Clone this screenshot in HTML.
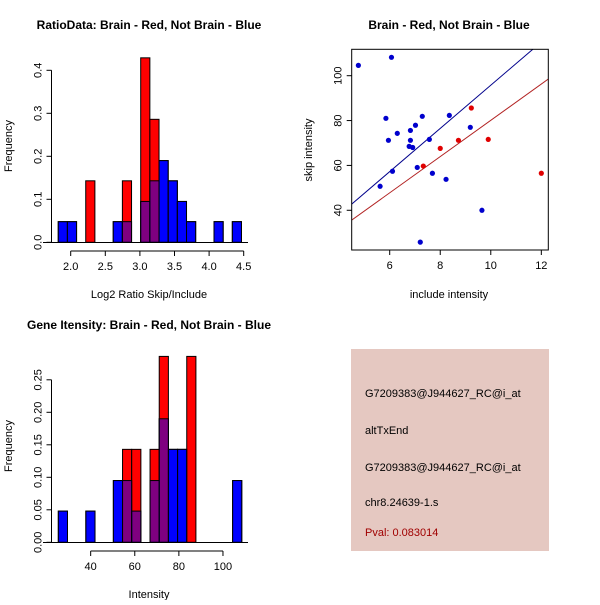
<!DOCTYPE html>
<html><head><meta charset="utf-8"><style>
body{margin:0;background:#fff}
svg text{font-family:"Liberation Sans",sans-serif}
</style></head><body>
<svg id="c" width="600" height="600" xmlns="http://www.w3.org/2000/svg"></svg>
<script>
// Panel 1: ratio histogram (shared breaks)
const ratioStart = 1.82, ratioWidth = 0.1324;
const ratioBlueBins = [0,1,6,7,9,10,11,12,13,14,17,19];
const ratioBlueFreq = [0.048,0.048,0.048,0.048,0.095,0.143,0.19,0.143,0.095,0.048,0.048,0.048];
const ratioRedBins = [3,7,9,10];
const ratioRedFreq = [0.143,0.143,0.429,0.286];
const ratioXTicks = [2.0,2.5,3.0,3.5,4.0,4.5];
const ratioYTicks = [0.0,0.1,0.2,0.3,0.4];
// Panel 2: intensity histogram
const intStart = 25.33, intWidth = 4.16;
const intBlueBins = [0,3,6,7,8,10,11,12,13,19];
const intBlueFreq = [0.048,0.048,0.095,0.095,0.048,0.095,0.19,0.143,0.143,0.095];
const intRedBins = [7,8,10,11,14];
const intRedFreq = [0.143,0.143,0.143,0.286,0.286];
const intXTicks = [40,60,80,100];
const intYTicks = [0.00,0.05,0.10,0.15,0.20,0.25];
// Panel 3: scatter
const blueX = [4.76,6.07,5.85,5.95,6.30,5.62,6.11,6.82,6.82,6.77,6.91,7.02,7.29,7.09,7.57,7.69,8.36,8.23,9.19,9.65,7.21];
const blueY = [104.6,108.2,81.0,71.2,74.3,50.7,57.4,75.6,71.2,68.5,68.0,77.9,81.9,59.1,71.6,56.5,82.3,53.8,77.0,40.0,25.8];
const redX = [7.33,8.0,8.72,9.23,9.90,12.0];
const redY = [59.7,67.6,71.2,85.6,71.6,56.5];
const blueFit = [-0.54, 9.63]; // intercept, slope
const redFit = [-0.7, 8.08];
const scXTicks = [6,8,10,12];
const scYTicks = [40,60,80,100];
const infoLines = ["G7209383@J944627_RC@i_at","altTxEnd","G7209383@J944627_RC@i_at","chr8.24639-1.s"];
const pvalText = "Pval: 0.083014";

const svg = document.getElementById('c');
const NS = "http://www.w3.org/2000/svg";
function mk(tag, attrs, parent){const e=document.createElementNS(NS,tag);for(const k in attrs)e.setAttribute(k,attrs[k]);(parent||svg).appendChild(e);return e;}
function txt(x,y,s,size,extra){const t=mk('text',Object.assign({x:x,y:y,'font-size':size,'text-anchor':'middle',fill:'#000'},extra||{}));t.textContent=s;return t;}

function hist(g, sx, sy, start, w, bBins, bFreq, rBins, rFreq){
  const y0 = sy(0);
  function bars(bins, freq, fill, op, name){
    bins.forEach((k,i)=>{
      const x1=sx(start+k*w), x2=sx(start+(k+1)*w), yt=sy(freq[i]);
      const r=mk('rect',{x:x1,y:yt,width:x2-x1,height:y0-yt,fill:fill,'fill-opacity':op,stroke:'#000','stroke-width':1},g);
      
      
    });
  }
  bars(bBins,bFreq,'#0000ff',1,'bar-not-brain');
  bars(rBins,rFreq,'#ff0000',1,'bar-brain');
  bars(bBins,bFreq,'#0000ff',0.5,'bar-overlap');
}
function yAxis(g, x, ticks, sy, fmt){
  mk('line',{x1:x,x2:x,y1:sy(ticks[0]),y2:sy(ticks[ticks.length-1]),stroke:'#000'},g);
  ticks.forEach(t=>{const y=sy(t);mk('line',{x1:x-5,x2:x,y1:y,y2:y,stroke:'#000'},g);
    txt(x-10,y,fmt(t),11,{transform:`rotate(-90 ${x-10} ${y})`});});
}
function xAxis(g, y, ticks, sx, fmt){
  mk('line',{x1:sx(ticks[0]),x2:sx(ticks[ticks.length-1]),y1:y,y2:y,stroke:'#000'},g);
  ticks.forEach(t=>{const x=sx(t);mk('line',{x1:x,x2:x,y1:y,y2:y+5,stroke:'#000'},g);txt(x,y+19,fmt(t),11);});
}

// Panel 1
{const g=mk('g',{});  
 const sx=v=>70.7+(v-2.0)*69.2, sy=v=>242.3-v*430;
 hist(g,sx,sy,ratioStart,ratioWidth,ratioBlueBins,ratioBlueFreq,ratioRedBins,ratioRedFreq);
 mk('line',{x1:43,x2:248,y1:242.5,y2:242.5,stroke:'#000'},g);
 yAxis(g,51.5,ratioYTicks,sy,t=>t.toFixed(1));
 xAxis(g,251,ratioXTicks,sx,t=>t.toFixed(1));
 txt(149,29,"RatioData: Brain - Red, Not Brain - Blue",12,{'font-weight':'bold'});
 txt(149,298,"Log2 Ratio Skip/Include",11);
 txt(12,146,"Frequency",11,{transform:'rotate(-90 12 146)'});
}
// Panel 2
{const g=mk('g',{});  
 const sx=v=>90.67+(v-40)*2.205, sy=v=>542.3-v*650;
 hist(g,sx,sy,intStart,intWidth,intBlueBins,intBlueFreq,intRedBins,intRedFreq);
 mk('line',{x1:43,x2:248,y1:542.5,y2:542.5,stroke:'#000'},g);
 yAxis(g,51.5,intYTicks,sy,t=>t.toFixed(2));
 xAxis(g,551,intXTicks,sx,t=>String(t));
 txt(149,329,"Gene Itensity: Brain - Red, Not Brain - Blue",12,{'font-weight':'bold'});
 txt(149,598,"Intensity",11);
 txt(12,446,"Frequency",11,{transform:'rotate(-90 12 446)'});
}
// Panel 3
{const g=mk('g',{});  
 const L=351.7,R=548.3,T=49.3,B=250;
 const sx=v=>389.7+(v-6)*25.27, sy=v=>75.7-(v-100)*2.243;
 const dx=v=>6+(v-389.7)/25.27;
 mk('clipPath',{id:'clp'},g); mk('rect',{x:L,y:T,width:R-L,height:B-T},document.getElementById('clp'));
 [[blueFit,'#00008b','fit-line-not-brain'],[redFit,'#b22222','fit-line-brain']].forEach(([f,c,n])=>{
   const a=dx(L),b=dx(R);
   const l=mk('line',{x1:L,x2:R,y1:sy(f[0]+f[1]*a),y2:sy(f[0]+f[1]*b),stroke:c,'clip-path':'url(#clp)'},g);
   
   
 });
 blueX.forEach((x,i)=>{const p=mk('circle',{cx:sx(x),cy:sy(blueY[i]),r:2.6,fill:'#0000cd'},g);
   
   });
 redX.forEach((x,i)=>{const p=mk('circle',{cx:sx(x),cy:sy(redY[i]),r:2.6,fill:'#e00000'},g);
   
   });
 mk('rect',{x:L,y:T,width:R-L,height:B-T,fill:'none',stroke:'#000'},g);
 scXTicks.forEach(t=>{const x=sx(t);mk('line',{x1:x,x2:x,y1:B,y2:B+5,stroke:'#000'},g);txt(x,B+19,String(t),11);});
 scYTicks.forEach(t=>{const y=sy(t);mk('line',{x1:L-5,x2:L,y1:y,y2:y,stroke:'#000'},g);txt(L-10,y,String(t),11,{transform:`rotate(-90 ${L-10} ${y})`});});
 txt(449,29,"Brain - Red, Not Brain - Blue",12,{'font-weight':'bold'});
 txt(449,298,"include intensity",11);
 txt(312,150,"skip intensity",11,{transform:'rotate(-90 312 150)'});
}
// Panel 4
{const g=mk('g',{});  
 mk('rect',{x:351,y:349,width:198,height:202,fill:'#e5c8c1'},g);
 const ys=[397,434,471,506];
 infoLines.forEach((s,i)=>{const t=txt(365,ys[i],s,11,{'text-anchor':'start'});
    });
 const p=txt(365,536,pvalText,11,{'text-anchor':'start',fill:'#a00000'});
  
}
</script>
</body></html>
